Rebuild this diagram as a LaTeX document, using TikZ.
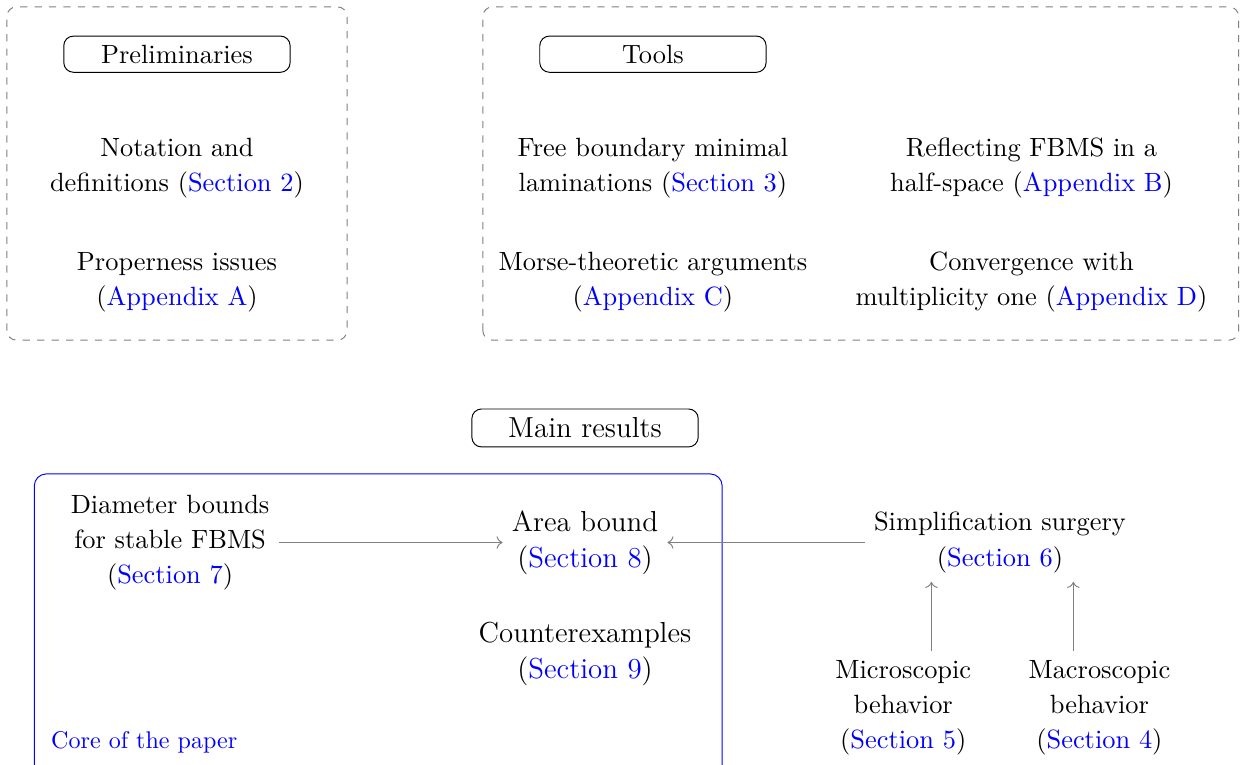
\documentclass[tikz,11pt,border=0pt]{standalone}
\usetikzlibrary{arrows.meta}
\linespread{1.07}
\newcommand{\rif}[1]{(\textcolor{blue}{#1})}
\begin{document}
\begin{tikzpicture}[
  titolo/.style={draw,rounded corners,minimum width=3.3cm},
  blocco/.style={align=center},
  freccia/.style={->,gray}
]
\useasboundingbox (0,0) rectangle (18.08,11.14);

  %% riquadri
  \draw[gray,dashed,rounded corners] (0.10,6.18) rectangle (5.06,11.04);
  \draw[gray,dashed,rounded corners] (7.04,6.18) rectangle (18.06,11.04);
  \draw[blue,rounded corners=5pt] (0.50,-0.4) rectangle (10.53,4.23);

  %% preliminari
  \node[titolo] (prel) at (2.58,10.35) {Preliminaries};
  \node[blocco] (nota) at (2.58,8.69) {Notation and\\definitions \rif{Section 2}};
  \node[blocco] (prop) at (2.58,7.03) {Properness issues\\\rif{Appendix A}};

  %% strumenti
  \node[titolo] (tools) at (9.52,10.35) {Tools};
  \node[blocco] (lam) at (9.52,8.69) {Free boundary minimal\\laminations \rif{Section 3}};
  \node[blocco] (refl) at (15.04,8.69) {Reflecting FBMS in a\\half-space \rif{Appendix B}};
  \node[blocco] (morse) at (9.52,7.03) {Morse-theoretic arguments\\\rif{Appendix C}};
  \node[blocco] (conv) at (15.04,7.03) {Convergence with\\multiplicity one \rif{Appendix D}};

  %% risultati principali
  \node[titolo,font=\large] (main) at (8.53,4.90) {Main results};
  \node[blocco] (diam) at (2.48,3.23) {Diameter bounds\\for stable FBMS\\\rif{Section 7}};
  \node[blocco,font=\large] (area) at (8.53,3.23) {Area bound\\\rif{Section 8}};
  \node[blocco,font=\large] (count) at (8.53,1.60) {Counterexamples\\\rif{Section 9}};
  \node[anchor=west,blue,font=\small] (core) at (0.61,0.32) {Core of the paper};

  \node[blocco] (simp) at (14.58,3.23) {Simplification surgery\\\rif{Section 6}};
  \node[blocco] (micro) at (13.17,0.82) {Microscopic\\behavior\\\rif{Section 5}};
  \node[blocco] (macro) at (16.03,0.82) {Macroscopic\\behavior\\\rif{Section 4}};

  %% frecce
  \coordinate (aL) at ([xshift=-1cm]simp.south);
  \coordinate (aR) at ([xshift=1.07cm]simp.south);
  \draw[freccia] (diam) -- (area);
  \draw[freccia] (simp) -- (area);
  \draw[freccia] (micro.north -| aL) -- (aL);
  \draw[freccia] (macro.north -| aR) -- (aR);
\end{tikzpicture}
\end{document}
